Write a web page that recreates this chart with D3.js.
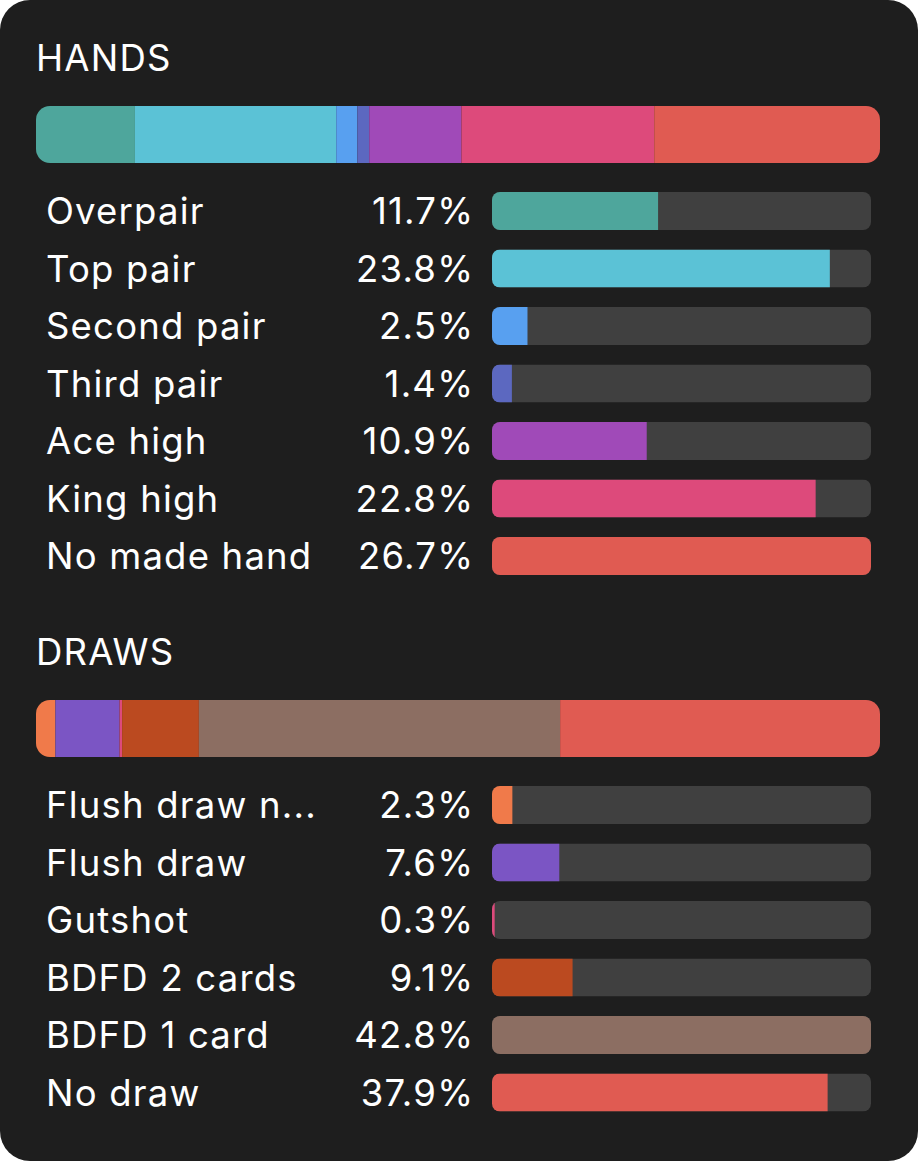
<!DOCTYPE html>
<html><head><meta charset="utf-8">
<script src="https://cdn.jsdelivr.net/npm/d3@7"></script>
<style>
html,body{margin:0;padding:0;background:#ffffff;}
svg{display:block;}
text{font-family:Inter,"Noto Sans",sans-serif;}
</style></head>
<body>
<script>
const handLabels = ["Overpair","Top pair","Second pair","Third pair","Ace high","King high","No made hand"];
const handValues = [11.7,23.8,2.5,1.4,10.9,22.8,26.7];
const handColors = ["#4ea69c","#5bc2d6","#58a0f0","#5c68c0","#a04ab8","#dd4a7b","#e05b52"];

const drawLabels = ["Flush draw n...","Flush draw","Gutshot","BDFD 2 cards","BDFD 1 card","No draw"];
const drawValues = [2.3,7.6,0.3,9.1,42.8,37.9];
const drawColors = ["#f07a4a","#7b55c4","#dd4a7b","#bb4a20","#8c6e62","#e05b52"];

const W = 918, H = 1161;
const FS = 36.5, LS = 1.2;
const svg = d3.select("body").append("svg").attr("width", W).attr("height", H);
svg.append("rect").attr("x",0).attr("y",0).attr("width",W).attr("height",H)
  .attr("rx",30).attr("ry",30).attr("fill","#1e1e1e");
const defs = svg.append("defs");
let clipId = 0;

function section(title, labels, values, colors, top) {
  const g = svg.append("g").attr("transform", `translate(0,${top})`);
  g.append("text").attr("x", 36).attr("y", 0.5).attr("fill", "#ffffff")
    .attr("font-size", FS).attr("letter-spacing", LS).text(title);

  // stacked bar
  const sbY = 36, sbH = 57;
  const total = d3.sum(values);
  const xs = d3.scaleLinear().domain([0,total]).range([36,880]);
  const cid = "clip" + (clipId++);
  defs.append("clipPath").attr("id", cid).append("rect")
    .attr("x", 36).attr("y", top + sbY).attr("width", 844).attr("height", sbH).attr("rx", 14);
  const cum = d3.cumsum(values);
  const sg = svg.append("g").attr("clip-path", `url(#${cid})`)
    .append("g").attr("transform", `translate(0,${top})`);
  sg.selectAll("rect").data(values).join("rect")
    .attr("x", (d,i) => xs(cum[i]-d))
    .attr("width", (d,i) => xs(cum[i]) - xs(cum[i]-d))
    .attr("y", sbY).attr("height", sbH)
    .attr("fill", (d,i) => colors[i]);

  // rows
  const rowStart = sbY + sbH + 48;
  const y = d3.scalePoint().domain(labels).range([rowStart, rowStart + 57.5*(labels.length-1)]);
  const xb = d3.scaleLinear().domain([0, d3.max(values)]).range([0, 379]);
  const bx = 492, bh = 38;
  labels.forEach((lab, i) => {
    const cy = y(lab);
    g.append("text").attr("x", 46).attr("y", cy).attr("dy", "0.36em")
      .attr("fill", "#ffffff").attr("font-size", FS).attr("letter-spacing", LS).text(lab);
    g.append("text").attr("x", 473 + LS).attr("y", cy).attr("dy", "0.36em")
      .attr("text-anchor", "end").attr("fill", "#ffffff").attr("font-size", FS).attr("letter-spacing", LS)
      .text(values[i].toFixed(1) + "%");
    const id = "clip" + (clipId++);
    defs.append("clipPath").attr("id", id).append("rect")
      .attr("x", bx).attr("y", top + cy - bh/2).attr("width", 379).attr("height", bh).attr("rx", 8);
    const rg = svg.append("g").attr("clip-path", `url(#${id})`)
      .append("g").attr("transform", `translate(0,${top})`);
    rg.append("rect").attr("x", bx).attr("y", cy - bh/2).attr("width", 379).attr("height", bh).attr("fill", "#404040");
    rg.append("rect").attr("x", bx).attr("y", cy - bh/2).attr("width", xb(values[i])).attr("height", bh).attr("fill", colors[i]);
  });
}

section("HANDS", handLabels, handValues, handColors, 70);
section("DRAWS", drawLabels, drawValues, drawColors, 664);
</script>
</body></html>
